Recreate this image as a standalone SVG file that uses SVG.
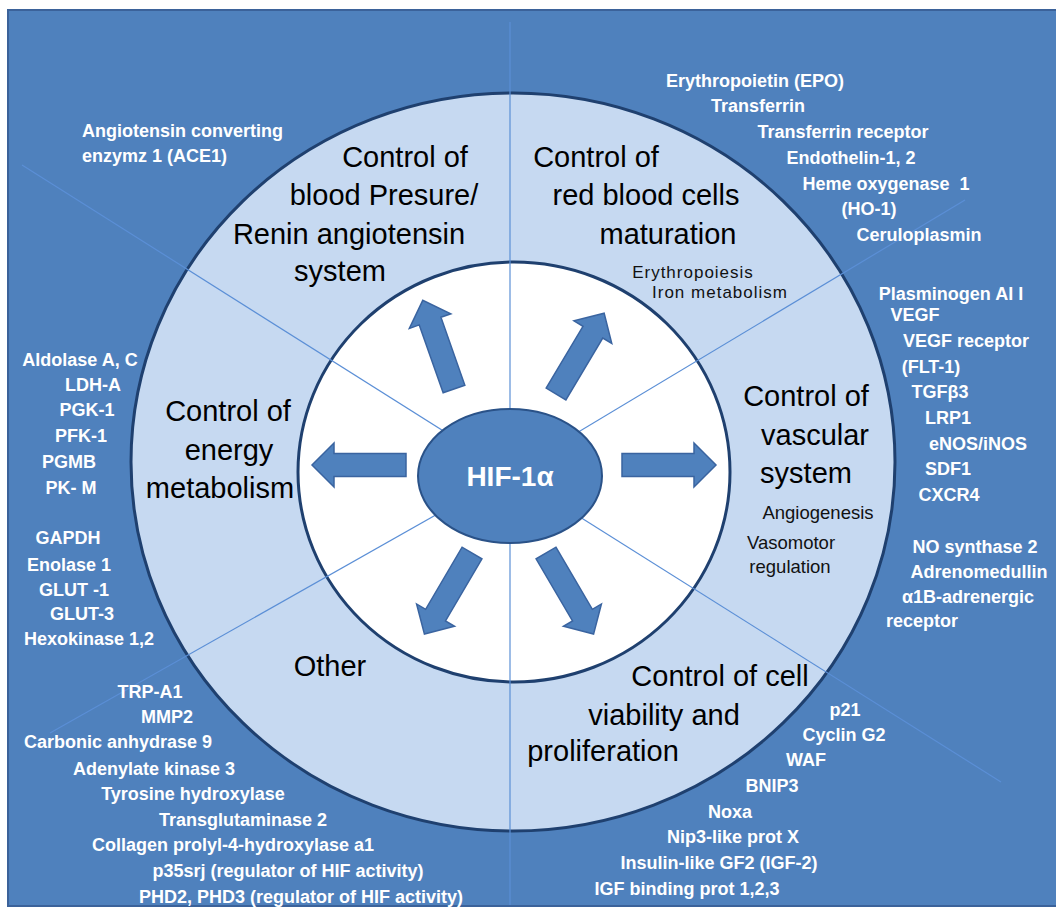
<svg xmlns="http://www.w3.org/2000/svg" width="1056" height="909" viewBox="0 0 1056 909">
<style>
.w{font-family:"Liberation Sans",Arial,sans-serif;font-weight:bold;font-size:18px;fill:#ffffff;text-anchor:middle;white-space:pre}
.b{font-family:"Liberation Sans",Arial,sans-serif;font-size:29px;fill:#000000;text-anchor:middle}
.s{font-family:"Liberation Sans",Arial,sans-serif;font-size:18.5px;fill:#111111;text-anchor:middle}
.t{font-family:"Liberation Sans",Arial,sans-serif;font-size:17px;letter-spacing:1px;fill:#111111;text-anchor:middle}
.div{stroke:#5B8FD6;stroke-width:1.2;fill:none}
.arr{fill:#4F81BD;stroke:#3A64A0;stroke-width:1.5}
</style>
<defs>
<path id="arrow" d="M0,-11.5 L72,-11.5 L72,-22 L94,0 L72,22 L72,11.5 L0,11.5 Z"/>
</defs>
<rect x="0" y="0" width="1056" height="909" fill="#ffffff"/>
<g id="background">
<rect x="8" y="10" width="1060" height="896" fill="#4F81BD" stroke="#3B629A" stroke-width="2"/>
</g>
<g id="rings">
<ellipse cx="513" cy="462" rx="382" ry="369" fill="#C6D9F1" stroke="#1F406F" stroke-width="3"/>
<ellipse cx="514" cy="472" rx="216" ry="210" fill="#ffffff" stroke="#1F406F" stroke-width="3"/>
</g>
<g id="dividers">
<line class="div" x1="510" y1="22" x2="510" y2="905"/>
<line class="div" x1="22" y1="165" x2="510" y2="473"/>
<line class="div" x1="965" y1="200" x2="510" y2="473"/>
<line class="div" x1="50" y1="733" x2="510" y2="473"/>
<line class="div" x1="1001" y1="782" x2="510" y2="473"/>
</g>
<g id="connectors">
<use href="#arrow" class="arr" transform="translate(406,465) rotate(180)"/>
<use href="#arrow" class="arr" transform="translate(622,465)"/>
<use href="#arrow" class="arr" transform="translate(454,389) rotate(-109.4)"/>
<use href="#arrow" class="arr" transform="translate(556,394) rotate(-59.2)"/>
<use href="#arrow" class="arr" transform="translate(472,553) rotate(120.4)"/>
<use href="#arrow" class="arr" transform="translate(546,553) rotate(59.6)"/>
</g>
<g id="hif">
<ellipse cx="510" cy="476" rx="92" ry="67" fill="#4F81BD" stroke="#2A5288" stroke-width="2"/>
<text x="510" y="486" font-family="Liberation Sans, Arial, sans-serif" font-weight="bold" font-size="28" fill="#ffffff" text-anchor="middle">HIF-1α</text>
</g>
<g id="blood-pressure">
<text class="b" x="405" y="167">Control of</text>
<text class="b" x="384" y="205">blood Presure/</text>
<text class="b" x="349" y="244">Renin angiotensin</text>
<text class="b" x="340" y="281">system</text>
<text class="w" x="82" y="137" style="text-anchor:start">Angiotensin converting</text>
<text class="w" x="82" y="162" style="text-anchor:start">enzymz 1 (ACE1)</text>
</g>
<g id="red-blood-cells">
<text class="b" x="596" y="167">Control of</text>
<text class="b" x="646" y="205">red blood cells</text>
<text class="b" x="668" y="244">maturation</text>
<text class="t" x="693" y="278">Erythropoiesis</text>
<text class="t" x="720" y="298">Iron metabolism</text>
<text class="w" x="755" y="87">Erythropoietin (EPO)</text>
<text class="w" x="758" y="112">Transferrin</text>
<text class="w" x="843" y="138">Transferrin receptor</text>
<text class="w" x="851" y="164">Endothelin-1, 2</text>
<text class="w" x="886" y="190">Heme oxygenase  1</text>
<text class="w" x="869" y="215">(HO-1)</text>
<text class="w" x="919" y="241">Ceruloplasmin</text>
</g>
<g id="vascular">
<text class="b" x="806" y="406">Control of</text>
<text class="b" x="815" y="445">vascular</text>
<text class="b" x="806" y="483">system</text>
<text class="s" x="818" y="519">Angiogenesis</text>
<text class="s" x="791" y="549">Vasomotor</text>
<text class="s" x="790" y="573">regulation</text>
<text class="w" x="951" y="300">Plasminogen AI I</text>
<text class="w" x="915" y="321">VEGF</text>
<text class="w" x="966" y="347">VEGF receptor</text>
<text class="w" x="931" y="373">(FLT-1)</text>
<text class="w" x="940" y="398">TGFβ3</text>
<text class="w" x="948" y="424">LRP1</text>
<text class="w" x="978" y="450">eNOS/iNOS</text>
<text class="w" x="948" y="475">SDF1</text>
<text class="w" x="949" y="501">CXCR4</text>
<text class="w" x="975" y="553">NO synthase 2</text>
<text class="w" x="979" y="578">Adrenomedullin</text>
<text class="w" x="968" y="603">α1B-adrenergic</text>
<text class="w" x="922" y="627">receptor</text>
</g>
<g id="energy">
<text class="b" x="228" y="421">Control of</text>
<text class="b" x="229" y="460">energy</text>
<text class="b" x="220" y="498">metabolism</text>
<text class="w" x="80" y="366">Aldolase A, C</text>
<text class="w" x="93" y="391">LDH-A</text>
<text class="w" x="87" y="416">PGK-1</text>
<text class="w" x="81" y="442">PFK-1</text>
<text class="w" x="69" y="468">PGMB</text>
<text class="w" x="71" y="494">PK- M</text>
<text class="w" x="68" y="544">GAPDH</text>
<text class="w" x="69" y="571">Enolase 1</text>
<text class="w" x="74" y="596">GLUT -1</text>
<text class="w" x="82" y="620">GLUT-3</text>
<text class="w" x="89" y="645">Hexokinase 1,2</text>
</g>
<g id="other">
<text class="b" x="330" y="676">Other</text>
<text class="w" x="150" y="698">TRP-A1</text>
<text class="w" x="167" y="723">MMP2</text>
<text class="w" x="118" y="748">Carbonic anhydrase 9</text>
<text class="w" x="154" y="775">Adenylate kinase 3</text>
<text class="w" x="193" y="800">Tyrosine hydroxylase</text>
<text class="w" x="243" y="826">Transglutaminase 2</text>
<text class="w" x="233" y="851">Collagen prolyl-4-hydroxylase a1</text>
<text class="w" x="288" y="877">p35srj (regulator of HIF activity)</text>
<text class="w" x="301" y="903">PHD2, PHD3 (regulator of HIF activity)</text>
</g>
<g id="cell-viability">
<text class="b" x="720" y="686">Control of cell</text>
<text class="b" x="664" y="725">viability and</text>
<text class="b" x="603" y="761">proliferation</text>
<text class="w" x="845" y="716">p21</text>
<text class="w" x="844" y="741">Cyclin G2</text>
<text class="w" x="806" y="766">WAF</text>
<text class="w" x="772" y="792">BNIP3</text>
<text class="w" x="730" y="818">Noxa</text>
<text class="w" x="733" y="843">Nip3-like prot X</text>
<text class="w" x="719" y="869">Insulin-like GF2 (IGF-2)</text>
<text class="w" x="687" y="895">IGF binding prot 1,2,3</text>
</g>
</svg>
